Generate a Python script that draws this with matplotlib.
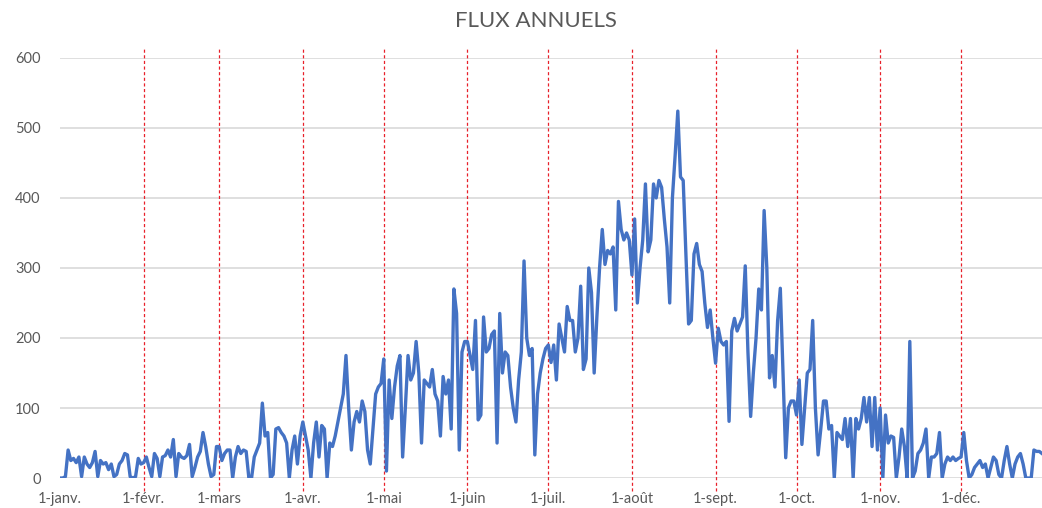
import numpy as np
import matplotlib
matplotlib.use("Agg")
import matplotlib.pyplot as plt

# daily values, one list per month
jan = [0, 0, 2, 40, 25, 28, 22, 30, 2, 30, 20, 15, 22, 38, 2, 25, 20, 22, 12, 20,
       2, 5, 20, 25, 35, 33, 2, 0, 2, 28, 20]
feb = [22, 30, 15, 2, 35, 28, 2, 30, 32, 40, 30, 55, 2, 35, 30, 28, 32, 48, 2, 15,
       30, 38, 65, 45, 20, 2, 5, 45]
mar = [45, 25, 35, 40, 40, 0, 30, 45, 35, 40, 38, 0, 0, 30, 40, 50, 107, 60, 65, 0,
       5, 70, 72, 65, 60, 50, 0, 40, 60, 20, 60]
apr = [80, 60, 40, 0, 50, 80, 30, 75, 70, 0, 50, 45, 60, 80, 100, 120, 175, 100, 40, 80,
       95, 80, 110, 95, 40, 20, 70, 120, 130, 135]
may = [170, 10, 140, 85, 130, 160, 175, 30, 100, 175, 140, 150, 195, 150, 50, 140, 135, 130, 155, 120,
       110, 60, 145, 120, 140, 70, 270, 235, 40, 180, 195]
jun = [195, 175, 155, 225, 83, 90, 230, 180, 185, 205, 210, 50, 235, 150, 180, 175, 130, 100, 80, 140,
       180, 310, 200, 175, 185, 33, 120, 150, 170, 185]
jul = [190, 165, 190, 140, 220, 200, 180, 245, 225, 225, 180, 200, 274, 155, 170, 300, 265, 150, 230, 300,
       355, 305, 325, 320, 330, 240, 395, 355, 340, 350, 340]
aug = [290, 370, 250, 300, 340, 420, 323, 340, 420, 400, 425, 415, 370, 330, 250, 400, 460, 524, 430, 425,
       320, 220, 225, 320, 335, 305, 295, 250, 215, 240, 200]
sep = [164, 214, 195, 190, 195, 81, 210, 228, 210, 220, 230, 303, 180, 88, 150, 200, 270, 240, 382, 300,
       143, 175, 130, 225, 271, 150, 29, 100, 110, 110]
oct_ = [90, 140, 48, 100, 150, 155, 225, 100, 33, 70, 110, 110, 70, 75, 0, 65, 60, 55, 85, 45,
        85, 0, 85, 70, 85, 115, 80, 115, 45, 115, 40]
nov = [100, 0, 90, 50, 60, 58, 0, 30, 70, 45, 0, 195, 0, 10, 35, 40, 50, 70, 0, 30,
       30, 35, 65, 0, 20, 30, 25, 30, 25, 28]
dec = [30, 65, 25, 0, 5, 15, 20, 25, 15, 20, 0, 15, 30, 25, 5, 0, 25, 45, 20, 0,
       20, 30, 35, 20, 0, 0, 0, 40, 38, 38, 35]

months = [jan, feb, mar, apr, may, jun, jul, aug, sep, oct_, nov, dec]
month_labels = ["1-janv.", "1-févr.", "1-mars", "1-avr.", "1-mai", "1-juin",
                "1-juil.", "1-août", "1-sept.", "1-oct.", "1-nov.", "1-déc."]

values = np.concatenate([np.array(m, dtype=float) for m in months])
days = np.arange(len(values))
month_starts = np.cumsum([0] + [len(m) for m in months[:-1]])

plt.rcParams['font.family'] = ['Lato', 'DejaVu Sans']

fig = plt.figure(figsize=(10.42, 5.08), dpi=100)
ax = fig.add_axes([0.0576, 0.059, 0.9424, 0.827])

ax.plot(days, values, color='#4472C4', linewidth=2.4, zorder=3)

# red dashed month separators, running a bit past the plot area
for d in month_starts[1:]:
    ax.axvline(d, ymin=-0.03, ymax=1.025, color='#E8202A', linewidth=0.9,
               linestyle=(0, (2.5, 2)), clip_on=False, zorder=2)

ax.set_xlim(0, len(values) - 1)
ax.set_ylim(0, 600)
ax.set_yticks(range(0, 601, 100))
ax.yaxis.grid(True, color='#d9d9d9', linewidth=1.2)
ax.set_axisbelow(True)
for s in ax.spines.values():
    s.set_visible(False)

ax.set_xticks(month_starts)
ax.set_xticklabels(month_labels)
ax.tick_params(axis='both', length=0, colors='#595959', labelsize=10.5)
ax.tick_params(axis='y', pad=14)
ax.tick_params(axis='x', pad=10)

fig.text(0.514, 0.958, "FLUX ANNUELS", ha='center', va='center',
         fontsize=16, color='#595959')

fig.savefig("out.png", dpi=100)
